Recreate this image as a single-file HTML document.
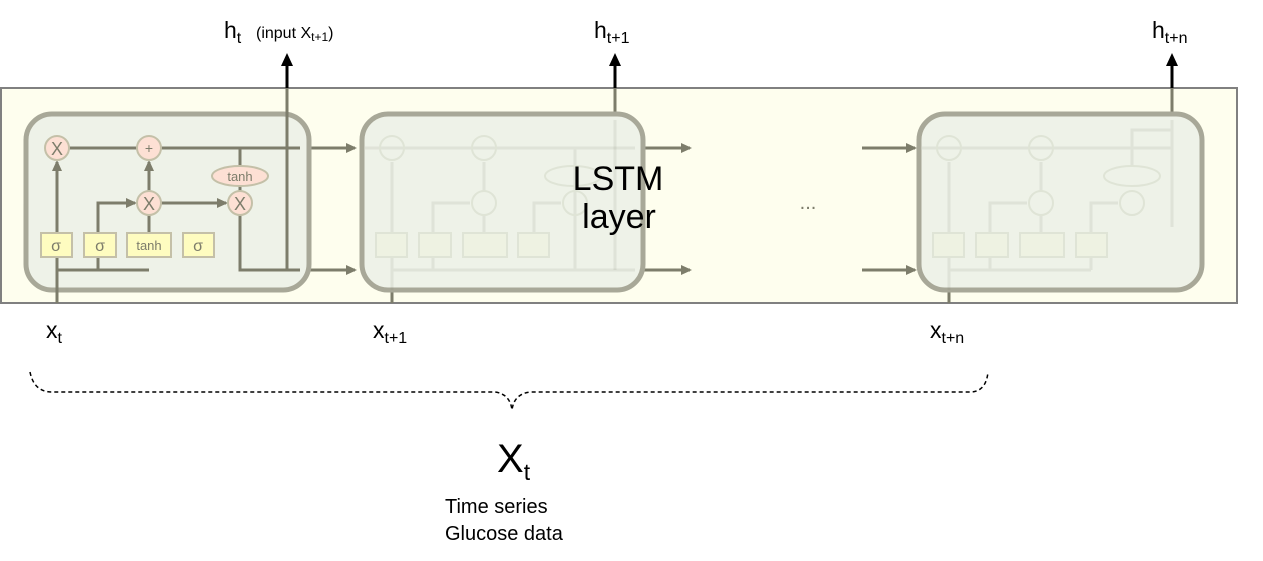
<!DOCTYPE html>
<html><head><meta charset="utf-8"><style>
html,body{margin:0;padding:0;background:#fff;}
svg{display:block;}
text{font-family:"Liberation Sans","DejaVu Sans",sans-serif;}
</style></head><body>
<svg width="1263" height="561" viewBox="0 0 1263 561" xmlns="http://www.w3.org/2000/svg">
<defs>
<marker id="ag" markerWidth="12" markerHeight="12" refX="9" refY="5" orient="auto" markerUnits="userSpaceOnUse"><path d="M0,0 L11,5 L0,10 z" fill="#7d7d6b"/></marker>
</defs>
<!-- outer panel -->
<rect x="1" y="88" width="1236" height="215" fill="#fefeee" stroke="#808080" stroke-width="2"/>

<!-- output lines (black above panel) -->
<g stroke="#000" stroke-width="3">
<line x1="287" y1="88" x2="287" y2="62"/>
<line x1="615" y1="88" x2="615" y2="62"/>
<line x1="1172" y1="88" x2="1172" y2="62"/>
</g>
<g fill="#000">
<polygon points="281,66 287,53 293,66"/>
<polygon points="609,66 615,53 621,66"/>
<polygon points="1166,66 1172,53 1178,66"/>
</g>
<line x1="615" y1="88" x2="615" y2="120" stroke="#7d7d6b" stroke-width="3"/>
<line x1="1172" y1="88" x2="1172" y2="120" stroke="#7d7d6b" stroke-width="3"/>

<!-- connectors between cells -->
<g stroke="#7d7d6b" stroke-width="3" fill="none">
<line x1="300" y1="148" x2="355" y2="148" marker-end="url(#ag)"/>
<line x1="300" y1="270" x2="355" y2="270" marker-end="url(#ag)"/>
<line x1="640" y1="148" x2="690" y2="148" marker-end="url(#ag)"/>
<line x1="640" y1="270" x2="690" y2="270" marker-end="url(#ag)"/>
<line x1="862" y1="148" x2="915" y2="148" marker-end="url(#ag)"/>
<line x1="862" y1="270" x2="915" y2="270" marker-end="url(#ag)"/>
<line x1="392" y1="290" x2="392" y2="303"/>
<line x1="949" y1="290" x2="949" y2="303"/>
</g>
<text x="808" y="209" font-size="20" fill="#7d7d6b" text-anchor="middle">...</text>

<!-- CELL 1 -->
<rect x="26" y="114" width="283" height="176" rx="26" fill="#eef2e8" stroke="#a8a898" stroke-width="5"/>
<g stroke="#7d7d6b" stroke-width="3" fill="none">
<line x1="69" y1="148" x2="300" y2="148"/>
<line x1="57" y1="303" x2="57" y2="162" marker-end="url(#ag)"/>
<line x1="57" y1="270" x2="149" y2="270"/>
<polyline points="98,270 98,203 135,203" marker-end="url(#ag)"/>
<line x1="149" y1="257" x2="149" y2="215"/>
<line x1="149" y1="191" x2="149" y2="162" marker-end="url(#ag)"/>
<line x1="161" y1="203" x2="226" y2="203" marker-end="url(#ag)"/>
<line x1="240" y1="148" x2="240" y2="191"/>
<polyline points="240,215 240,270 300,270"/>
<line x1="287" y1="270" x2="287" y2="88"/>
</g>
<g stroke="#c4c0a8" stroke-width="2">
<circle cx="57" cy="148" r="12" fill="#fde0d4"/>
<circle cx="149" cy="148" r="12" fill="#fde0d4"/>
<circle cx="149" cy="203" r="12" fill="#fde0d4"/>
<ellipse cx="240" cy="176" rx="28" ry="10" fill="#fde0d4"/>
<circle cx="240" cy="203" r="12" fill="#fde0d4"/>
<rect x="41" y="233" width="31" height="24" fill="#fefcc0"/>
<rect x="84" y="233" width="32" height="24" fill="#fefcc0"/>
<rect x="127" y="233" width="44" height="24" fill="#fefcc0"/>
<rect x="183" y="233" width="31" height="24" fill="#fefcc0"/>
</g>
<g fill="#7d7d6b" text-anchor="middle">
<text x="57" y="155" font-size="18">X</text>
<text x="149" y="153" font-size="14">+</text>
<text x="149" y="210" font-size="18">X</text>
<text x="240" y="210" font-size="18">X</text>
<text x="240" y="181" font-size="13">tanh</text>
<text x="56" y="251" font-size="16">σ</text>
<text x="100" y="251" font-size="16">σ</text>
<text x="149" y="250" font-size="13">tanh</text>
<text x="198" y="251" font-size="16">σ</text>
</g>

<!-- CELL 2 -->
<rect x="362" y="114" width="281" height="176" rx="26" fill="#eef2e8" stroke="#a8a898" stroke-width="5"/>
<g transform="translate(335,0)">
<g stroke="#7d7d6b" stroke-width="3" fill="none" opacity="0.12">
<line x1="30" y1="148" x2="300" y2="148"/>
<line x1="57" y1="290" x2="57" y2="162"/>
<line x1="57" y1="270" x2="241" y2="270"/>
<polyline points="98,270 98,203 135,203"/>
<line x1="149" y1="257" x2="149" y2="215"/>
<line x1="149" y1="191" x2="149" y2="162"/>
<polyline points="199,257 199,203 226,203"/>
<polyline points="240,148 240,270 300,270"/>
</g>
<g stroke="#dfe4d6" stroke-width="2" fill="none">
<circle cx="57" cy="148" r="12"/><circle cx="149" cy="148" r="12"/><circle cx="149" cy="203" r="12"/>
<ellipse cx="238" cy="176" rx="28" ry="10"/><circle cx="240" cy="203" r="12"/>
<rect x="41" y="233" width="31" height="24" fill="#eef2e2"/><rect x="84" y="233" width="32" height="24" fill="#eef2e2"/>
<rect x="128" y="233" width="44" height="24" fill="#eef2e2"/><rect x="183" y="233" width="31" height="24" fill="#eef2e2"/>
</g>
</g>
<line x1="615" y1="120" x2="615" y2="270" stroke="#7d7d6b" stroke-width="3" opacity="0.12"/>
<text x="618" y="190" font-size="34" fill="#000" text-anchor="middle">LSTM</text>
<text x="619" y="228" font-size="34" fill="#000" text-anchor="middle">layer</text>

<!-- CELL 3 -->
<rect x="919" y="114" width="283" height="176" rx="26" fill="#eef2e8" stroke="#a8a898" stroke-width="5"/>
<g transform="translate(892,0)">
<g stroke="#7d7d6b" stroke-width="3" fill="none" opacity="0.12">
<line x1="30" y1="148" x2="280" y2="148"/>
<line x1="57" y1="290" x2="57" y2="162"/>
<line x1="57" y1="270" x2="199" y2="270"/>
<polyline points="98,270 98,203 135,203"/>
<line x1="149" y1="257" x2="149" y2="215"/>
<line x1="149" y1="191" x2="149" y2="162"/>
<polyline points="199,270 199,203 226,203"/>
<polyline points="240,166 240,130 280,130"/>
<line x1="280" y1="120" x2="280" y2="227"/>
</g>
<g stroke="#dfe4d6" stroke-width="2" fill="none">
<circle cx="57" cy="148" r="12"/><circle cx="149" cy="148" r="12"/><circle cx="149" cy="203" r="12"/>
<ellipse cx="240" cy="176" rx="28" ry="10"/><circle cx="240" cy="203" r="12"/>
<rect x="41" y="233" width="31" height="24" fill="#eef2e2"/><rect x="84" y="233" width="32" height="24" fill="#eef2e2"/>
<rect x="128" y="233" width="44" height="24" fill="#eef2e2"/><rect x="184" y="233" width="31" height="24" fill="#eef2e2"/>
</g>
</g>

<!-- top labels -->
<text x="224" y="38" font-size="23" fill="#000">h<tspan font-size="16" dy="5">t</tspan></text>
<text x="256" y="38" font-size="16" fill="#000">(input X<tspan font-size="12" dy="3">t+1</tspan><tspan dy="-3">)</tspan></text>
<text x="594" y="38" font-size="23" fill="#000">h<tspan font-size="16" dy="5">t+1</tspan></text>
<text x="1152" y="38" font-size="23" fill="#000">h<tspan font-size="16" dy="5">t+n</tspan></text>

<!-- bottom labels -->
<text x="46" y="338" font-size="23" fill="#000">x<tspan font-size="16" dy="5">t</tspan></text>
<text x="373" y="338" font-size="23" fill="#000">x<tspan font-size="16" dy="5">t+1</tspan></text>
<text x="930" y="338" font-size="23" fill="#000">x<tspan font-size="16" dy="5">t+n</tspan></text>

<path d="M30,372 Q34,392 52,392 L495,392 Q510,394 512,410 Q514,394 530,392 L970,392 Q986,392 988,372" fill="none" stroke="#000" stroke-width="1.5" stroke-dasharray="4,3"/>

<text x="497" y="472" font-size="40" fill="#000">X<tspan font-size="23" dy="8">t</tspan></text>
<text x="445" y="513" font-size="20" fill="#000">Time series</text>
<text x="445" y="540" font-size="20" fill="#000">Glucose data</text>
</svg>
</body></html>
